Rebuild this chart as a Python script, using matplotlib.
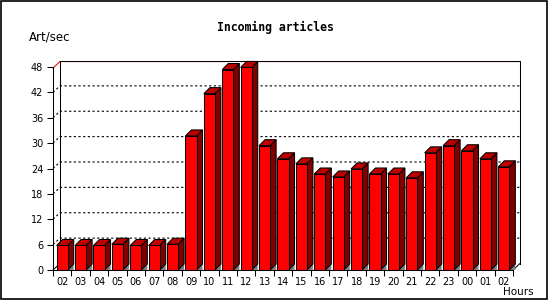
import numpy as np
import matplotlib
matplotlib.use("Agg")
from matplotlib import pyplot as plt
from matplotlib.patches import Polygon, Rectangle

hours = ["02", "03", "04", "05", "06", "07", "08", "09", "10", "11", "12", "13", "14",
         "15", "16", "17", "18", "19", "20", "21", "22", "23", "00", "01", "02"]
rate = [5.8, 5.8, 5.8, 6.1, 5.8, 5.8, 6.1, 31.7, 41.7, 47.4, 47.9, 29.4, 26.3,
        25.1, 22.7, 22.0, 23.9, 22.7, 22.7, 21.8, 27.7, 29.4, 28.2, 26.3, 24.4]
yticks = list(range(0, 49, 6))

W, H = 550, 300
fig = plt.figure(figsize=(5.5, 3), dpi=100)
left, right, bottom, top = 53, 513, 270, 67
ax = fig.add_axes([left / W, 1 - bottom / H, (right - left) / W, (bottom - top) / H])
n = len(hours)
ymax = 48
ax.set_xlim(0, n)
ax.set_ylim(0, ymax)
ax.patch.set_alpha(0)

ppx = (right - left) / n
ppy = (bottom - top) / ymax
ddx, ddy = 7 / ppx, 6.5 / ppy   # back wall depth
bdx, bdy = 6 / ppx, 6 / ppy     # bar depth
lw = 0.75

# back wall
ax.add_patch(Polygon([(ddx, ddy), (n + ddx, ddy), (n + ddx, ymax + ddy), (ddx, ymax + ddy)],
                     closed=True, facecolor="white", edgecolor="none", zorder=0.5, clip_on=False))
for v in yticks[1:-1]:
    ax.plot([0, ddx, n + ddx], [v, v + ddy, v + ddy], color="black", lw=0.8,
            dashes=(2, 2.2), zorder=1, clip_on=False)
ax.plot([0, ddx, n + ddx], [ymax - 0.25, ymax + ddy - 0.25, ymax + ddy - 0.25],
        color="red", lw=lw, zorder=1.1, clip_on=False)
ax.plot([ddx, ddx, n + ddx, n + ddx], [ddy, ymax + ddy, ymax + ddy, ddy],
        color="black", lw=lw, zorder=1.2, clip_on=False)

# floor ends
ax.plot([0, ddx], [0, ddy], color="black", lw=lw, zorder=1.5, clip_on=False)
ax.plot([n, n + ddx], [0, ddy], color="black", lw=lw, zorder=1.5, clip_on=False)

# bars
x = np.arange(n) + 0.5
w = 0.6
ax.bar(x, rate, width=w, color="#ff0000", edgecolor="black", linewidth=lw, zorder=3)
for xi, v in zip(x, rate):
    xr = xi + w / 2
    ax.add_patch(Polygon([(xr, 0), (xr + bdx, bdy), (xr + bdx, 0)], closed=True,
                         facecolor="#808080", edgecolor="none", zorder=2.8, clip_on=False))
    ax.add_patch(Polygon([(xr, 0), (xr + bdx, bdy), (xr + bdx, v + bdy), (xr, v)], closed=True,
                         facecolor="#800000", edgecolor="black", lw=lw, zorder=2.9, clip_on=False))
    ax.add_patch(Polygon([(xi - w / 2, v), (xi - w / 2 + bdx, v + bdy), (xr + bdx, v + bdy),
                          (xr, v)], closed=True, facecolor="#c00000",
                         edgecolor="black", lw=lw, zorder=2.9, clip_on=False))

# axes
for s in ["top", "right"]:
    ax.spines[s].set_visible(False)
for s in ["left", "bottom"]:
    ax.spines[s].set_linewidth(lw)
    ax.spines[s].set_zorder(4)
ax.set_yticks(yticks)
ax.set_yticklabels([str(t) for t in yticks], fontsize=7, family="DejaVu Sans")
ax.tick_params(axis="y", direction="out", length=4, width=lw, pad=3)
ax.set_xticks(np.arange(n + 1))
ax.set_xticklabels([])
ax.set_xticks(x, minor=True)
ax.set_xticklabels(hours, minor=True, fontsize=7, family="DejaVu Sans")
ax.tick_params(axis="x", which="major", direction="out", length=4, width=lw)
ax.tick_params(axis="x", which="minor", length=0, pad=5)

fig.text(275 / W, 1 - 27 / H, "Incoming articles", ha="center", va="center",
         fontsize=8.3, fontweight="bold", family="DejaVu Sans Mono")
fig.text(29 / W, 1 - 37 / H, "Art/sec", ha="left", va="center", fontsize=8.5, family="DejaVu Sans")
fig.text(534 / W, 1 - 292 / H, "Hours", ha="right", va="center", fontsize=7.5, family="DejaVu Sans")

fig.patches.append(Rectangle((0.5 / W, 1 / H), 546.5 / W, 298.5 / H, transform=fig.transFigure,
                             fill=False, edgecolor="black", lw=1.2))

plt.savefig("out.png", dpi=100)
